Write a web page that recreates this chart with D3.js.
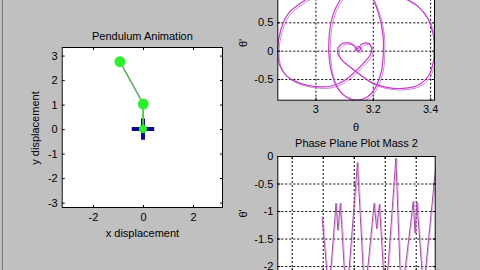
<!DOCTYPE html>
<html>
<head>
<meta charset="utf-8">
<script src="https://cdn.jsdelivr.net/npm/d3@7"></script>
<style>
  html, body { margin: 0; padding: 0; background: #c0c0c0; }
  svg { display: block; font-family: "Liberation Sans", Arial, sans-serif; }
  .tick text { font-size: 11px; fill: #000; }
</style>
</head>
<body>
<svg width="480" height="270"></svg>
<script>
// pendulum state (x, y)
const pivot = [0, 0];
const mass1 = [0.014, 1.02];
const mass2 = [-0.92, 2.75];
const pendXTicks = [-2, 0, 2];
const pendYTicks = [-3, -2, -1, 0, 1, 2, 3];

// phase plane, mass 1 (theta, theta')
const loopOuter = [[3.086,1.247],[3.005,1.012],[2.947,0.835],[2.906,0.659],[2.879,0.365],[2.868,0.012],[2.875,-0.252],[2.900,-0.446],[2.947,-0.576],[3.005,-0.634],[3.057,-0.623],[3.104,-0.517],[3.138,-0.370],[3.167,-0.223],[3.191,-0.076],[3.196,0.042],[3.185,0.130],[3.162,0.118],[3.145,0.024],[3.133,0.101],[3.109,0.142],[3.086,0.101],[3.077,-0.017],[3.092,-0.164],[3.127,-0.311],[3.162,-0.446],[3.202,-0.576],[3.249,-0.646],[3.307,-0.664],[3.359,-0.605],[3.394,-0.446],[3.410,-0.223],[3.414,0.012],[3.410,0.306],[3.391,0.571],[3.359,0.777],[3.313,0.924],[3.249,1.071],[3.179,1.247],[3.133,1.306],[3.086,1.247]];
const loopInner = [[3.046,0.012],[3.050,0.365],[3.063,0.659],[3.086,0.894],[3.121,1.129],[3.156,1.188],[3.196,0.953],[3.220,0.659],[3.235,0.306],[3.237,0.012],[3.231,-0.340],[3.208,-0.664],[3.179,-0.822],[3.145,-0.870],[3.107,-0.811],[3.074,-0.634],[3.054,-0.340],[3.046,0.012]];
const knot = [[3.138,0.03],[3.146,0.07],[3.158,0.05],[3.156,0.01],[3.144,0.0],[3.138,0.03]];
const phaseXTicks = [3, 3.2, 3.4];
const phaseYTicks = [-0.5, 0, 0.5];

// phase plane, mass 2
const mass2T = [19.8,21.2,21.7,22.7,24.3,24.9,25.7,26.9,27.5,28.6,31.2,33.0,33.6,34.6,36.6,37.4,38.3,39.5,40.1,41.1,43.6,44.9,45.6,46.7,49.2,49.8,50.4,51.9,52.5,53.3,56.9];
const mass2V = [-1.1,-2.0,-2.4,-2.0,-0.86,-1.35,-0.86,-2.0,-2.4,-2.0,-0.12,-2.0,-2.4,-2.0,-0.86,-1.32,-0.88,-2.0,-2.4,-2.0,-0.04,-2.0,-2.4,-2.0,-0.83,-1.4,-0.84,-2.0,-2.4,-2.0,0.05];
const mass2XTicks = [10, 20, 30, 40, 50];
const mass2YTicks = [-2, -1.5, -1, -0.5, 0];

const svg = d3.select("svg");
svg.append("line").attr("x1", 2.5).attr("x2", 2.5).attr("y1", 0).attr("y2", 270).attr("stroke", "#7a7a7a");

const fmt = d => String(d);
let clipId = 0;

// MATLAB-like axes box
function makeAxes(x, y, o) {
  const [x0, x1] = x.range();
  const [y0, y1] = y.range();
  const g = svg.append("g");
  g.append("rect").attr("x", x0).attr("y", y1).attr("width", x1 - x0).attr("height", y0 - y1).attr("fill", "#fff");
  if (o.grid) {
    const gx = g.append("g").attr("transform", `translate(0,${y0})`)
      .call(d3.axisBottom(x).tickValues(o.xt).tickSize(-(y0 - y1)).tickFormat(""));
    const gy = g.append("g").attr("transform", `translate(${x0},0)`)
      .call(d3.axisLeft(y).tickValues(o.yt).tickSize(-(x1 - x0)).tickFormat(""));
    [gx, gy].forEach(a => {
      a.select(".domain").remove();
      a.selectAll("line").attr("stroke", "#000").attr("stroke-dasharray", "2,2");
    });
  }
  const id = "clip" + (clipId++);
  svg.append("clipPath").attr("id", id).append("rect")
    .attr("x", x0).attr("y", y1).attr("width", x1 - x0).attr("height", y0 - y1);
  const plot = g.append("g").attr("clip-path", `url(#${id})`);

  const b = g.append("g").attr("transform", `translate(0,${y0})`)
    .call(d3.axisBottom(x).tickValues(o.xt).tickSizeInner(-3).tickSizeOuter(0).tickPadding(5)
      .tickFormat(o.noXLabels ? "" : fmt));
  const t = g.append("g").attr("transform", `translate(0,${y1})`)
    .call(d3.axisTop(x).tickValues(o.xt).tickSizeInner(-3).tickSizeOuter(0).tickFormat(""));
  const l = g.append("g").attr("transform", `translate(${x0},0)`)
    .call(d3.axisLeft(y).tickValues(o.yt).tickSizeInner(-3).tickSizeOuter(0).tickPadding(4).tickFormat(fmt));
  const r = g.append("g").attr("transform", `translate(${x1},0)`)
    .call(d3.axisRight(y).tickValues(o.yt).tickSizeInner(-3).tickSizeOuter(0).tickFormat(""));
  [b, t, l, r].forEach(a => {
    a.select(".domain").remove();
    a.attr("font-family", null).attr("font-size", null);
    a.selectAll("line").attr("stroke", "#000");
  });
  g.append("rect").attr("x", x0 + 0.5).attr("y", y1 + 0.5).attr("width", x1 - x0 - 1).attr("height", y0 - y1 - 1)
    .attr("fill", "none").attr("stroke", "#000");
  return plot;
}

function label(txt, x, y, rot) {
  svg.append("text").text(txt).attr("text-anchor", "middle").attr("font-size", 11)
    .attr("transform", `translate(${x},${y})` + (rot ? " rotate(-90)" : ""));
}

// --- pendulum animation
const px = d3.scaleLinear().domain([-3.25, 3.2]).range([61.7, 223]);
const py = d3.scaleLinear().domain([-3.22, 3.35]).range([208, 47]);
const pend = makeAxes(px, py, { xt: pendXTicks, yt: pendYTicks });
label("Pendulum Animation", 142.4, 39.5);
label("x displacement", 142.4, 237);
label("y displacement", 39, 128, true);

pend.append("path").attr("d", `M${px(-0.45)},${py(0)}H${px(0.45)}M${px(0)},${py(-0.43)}V${py(0.43)}`)
  .attr("stroke", "#0a0a8c").attr("stroke-width", 4).attr("fill", "none");
pend.append("line").attr("x1", px(pivot[0])).attr("y1", py(pivot[1])).attr("x2", px(mass1[0])).attr("y2", py(mass1[1]))
  .attr("stroke", "#3ccf3c").attr("stroke-width", 1.8);
pend.append("line").attr("x1", px(mass1[0])).attr("y1", py(mass1[1])).attr("x2", px(mass2[0])).attr("y2", py(mass2[1]))
  .attr("stroke", "#5caa5c").attr("stroke-width", 1.5);
pend.append("circle").attr("cx", px(pivot[0])).attr("cy", py(pivot[1])).attr("r", 4).attr("fill", "#2ef02e");
[mass1, mass2].forEach(m => {
  pend.append("circle").attr("cx", px(m[0])).attr("cy", py(m[1])).attr("r", 5.5).attr("fill", "#2ef02e");
});

// --- phase plane mass 1
const tx = d3.scaleLinear().domain([2.867, 3.417]).range([277.3, 435]);
const ty = d3.scaleLinear().domain([-0.882, 1.15]).range([100.7, -14.5]);
const ph1 = makeAxes(tx, ty, { xt: phaseXTicks, yt: phaseYTicks, grid: true });
label("\u03b8", 356, 131);
label("\u03b8'", 247, 43, true);
const line1 = d3.line().x(d => tx(d[0])).y(d => ty(d[1])).curve(d3.curveCatmullRom);
[loopOuter, loopInner, knot].forEach(s => {
  ph1.append("path").attr("d", line1(s)).attr("fill", "none").attr("stroke", "#c83cc8").attr("stroke-width", 1.2);
  ph1.append("path").attr("d", line1(s)).attr("transform", "translate(1.5,1.5)").attr("fill", "none")
    .attr("stroke", "#b050c8").attr("stroke-width", 1).attr("opacity", 0.7);
});

// --- phase plane mass 2
const mx = d3.scaleLinear().domain([5.35, 56.45]).range([277.3, 435.7]);
const my = d3.scaleLinear().domain([-2.09, 0]).range([271, 156]);
const ph2 = makeAxes(mx, my, { xt: mass2XTicks, yt: mass2YTicks, grid: true, noXLabels: true });
label("Phase Plane Plot Mass 2", 356.5, 147);
label("\u03b8'", 247, 213.5, true);
const line2 = d3.line().x((d, i) => mx(mass2T[i])).y(d => my(d));
ph2.append("path").attr("d", line2(mass2V)).attr("fill", "none").attr("stroke", "#a448a4").attr("stroke-width", 1);
ph2.append("path").attr("d", line2(mass2V)).attr("transform", "translate(1,0)").attr("fill", "none")
  .attr("stroke", "#c070c0").attr("stroke-width", 0.8).attr("opacity", 0.6);
</script>
</body>
</html>
